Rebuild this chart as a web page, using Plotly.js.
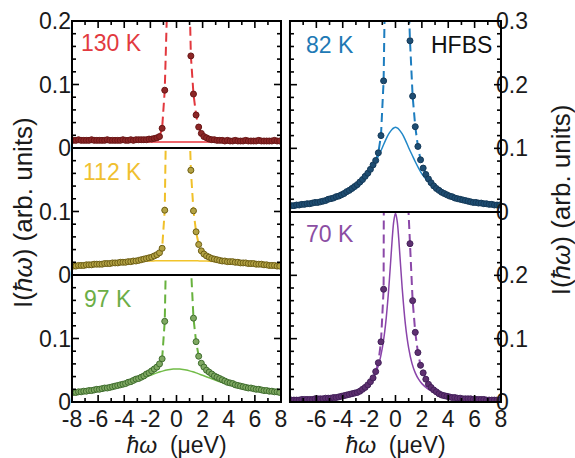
<!DOCTYPE html>
<html>
<head>
<meta charset="utf-8">
<script src="https://cdn.plot.ly/plotly-3.0.1.min.js"></script>
<style>html,body{margin:0;padding:0;background:#fff;}#chart{width:575px;height:458px;}</style>
</head>
<body>
<div id="chart"></div>
<script>
// energy transfer grid of the measured points (µeV)
const xGrid = [-7.9,-7.7,-7.5,-7.3,-7.1,-6.9,-6.7,-6.5,-6.3,-6.1,
-5.9,-5.7,-5.5,-5.3,-5.1,-4.9,-4.7,-4.5,-4.3,-4.1,
-3.9,-3.7,-3.5,-3.3,-3.1,-2.9,-2.7,-2.5,-2.3,-2.1,
-1.9,-1.7,-1.5,-1.3,-1.1,-0.9,-0.7,-0.5,-0.3,-0.1,
0.1,0.3,0.5,0.7,0.9,1.1,1.3,1.5,1.7,1.9,
2.1,2.3,2.5,2.7,2.9,3.1,3.3,3.5,3.7,3.9,
4.1,4.3,4.5,4.7,4.9,5.1,5.3,5.5,5.7,5.9,
6.1,6.3,6.5,6.7,6.9,7.1,7.3,7.5,7.7,7.9];

// measured intensities (values above the axis range are off-scale)
const p130 = [0.012,0.012,0.013,0.012,0.012,0.012,0.012,0.013,0.012,0.012,
0.012,0.012,0.012,0.013,0.012,0.012,0.012,0.012,0.012,0.013,
0.012,0.012,0.013,0.012,0.013,0.013,0.013,0.013,0.013,0.014,
0.014,0.015,0.016,0.018,0.031,0.091,0.236,0.8,1.4,1.8,
1.8,1.4,1.0,0.6,0.33,0.145,0.085,0.052,0.033,0.023,
0.018,0.016,0.014,0.013,0.013,0.012,0.012,0.012,0.011,0.012,
0.011,0.011,0.012,0.011,0.011,0.011,0.012,0.011,0.011,0.011,
0.011,0.012,0.011,0.011,0.011,0.011,0.011,0.012,0.011,0.011];

const p112 = [0.014,0.014,0.015,0.015,0.015,0.016,0.016,0.016,0.017,0.017,
0.017,0.017,0.018,0.018,0.018,0.019,0.019,0.019,0.020,0.020,
0.020,0.021,0.021,0.022,0.022,0.023,0.024,0.025,0.026,0.027,
0.028,0.030,0.032,0.035,0.042,0.102,0.38,0.9,1.3,1.5,
1.5,1.3,0.9,0.55,0.30,0.165,0.101,0.068,0.048,0.038,
0.033,0.030,0.028,0.026,0.025,0.024,0.023,0.022,0.022,0.021,
0.021,0.021,0.020,0.020,0.019,0.019,0.019,0.018,0.018,0.018,
0.017,0.017,0.017,0.016,0.016,0.015,0.015,0.015,0.014,0.014];

const p97 = [0.015,0.015,0.016,0.016,0.017,0.017,0.018,0.018,0.019,0.020,
0.020,0.021,0.022,0.022,0.023,0.024,0.025,0.026,0.027,0.028,
0.029,0.031,0.032,0.034,0.036,0.037,0.039,0.041,0.044,0.046,
0.049,0.052,0.055,0.060,0.068,0.127,0.27,0.6,1.0,1.2,
1.2,1.0,0.7,0.55,0.40,0.215,0.132,0.095,0.072,0.061,
0.055,0.050,0.047,0.044,0.041,0.039,0.037,0.035,0.033,0.031,
0.030,0.029,0.027,0.026,0.025,0.024,0.023,0.022,0.022,0.021,
0.020,0.020,0.019,0.018,0.018,0.017,0.017,0.016,0.016,0.015];

const p82 = [0.010,0.010,0.011,0.011,0.012,0.012,0.013,0.013,0.014,0.015,
0.015,0.016,0.017,0.018,0.020,0.021,0.022,0.024,0.025,0.027,
0.029,0.032,0.034,0.037,0.040,0.043,0.047,0.051,0.056,0.061,
0.067,0.074,0.081,0.093,0.120,0.206,0.9,1.3,1.5,1.6,
1.6,1.5,1.2,0.7,0.39,0.269,0.182,0.134,0.103,0.082,
0.069,0.059,0.052,0.046,0.041,0.037,0.034,0.031,0.029,0.027,
0.025,0.024,0.022,0.021,0.020,0.019,0.018,0.017,0.016,0.015,
0.015,0.014,0.014,0.013,0.013,0.012,0.012,0.011,0.011,0.011];

const p70 = [0.003,0.003,0.003,0.003,0.004,0.004,0.004,0.004,0.004,0.005,
0.005,0.005,0.005,0.006,0.006,0.006,0.007,0.007,0.008,0.009,
0.010,0.011,0.012,0.013,0.014,0.015,0.017,0.020,0.023,0.027,
0.032,0.038,0.048,0.062,0.095,0.178,2.0,2.4,2.7,2.8,
2.8,2.5,2.0,1.2,0.34,0.25,0.16,0.11,0.078,0.058,
0.046,0.036,0.028,0.023,0.019,0.016,0.013,0.011,0.010,0.009,
0.008,0.007,0.007,0.006,0.006,0.005,0.005,0.005,0.005,0.004,
0.004,0.004,0.004,0.004,0.003,0.003,0.003,0.003,0.003,0.003];

// broad (quasi-elastic) component, solid lines
const fineX = [-8,-7,-6,-5,-4,-3.5,-3,-2.5,-2,-1.75,-1.5,-1.25,-1,-0.75,-0.5,-0.25,-0.125,0,
0.125,0.25,0.5,0.75,1,1.25,1.5,1.75,2,2.5,3,3.5,4,5,6,7,8];
const s130 = [0.0095,0.0095,0.0095,0.0095,0.0095,0.0095,0.0095,0.0095,0.0095,0.0095,0.0095,0.0095,0.0095,0.0095,0.0095,0.0095,0.0095,0.0095,
0.0095,0.0095,0.0095,0.0095,0.0095,0.0095,0.0095,0.0095,0.0095,0.0095,0.0095,0.0095,0.0095,0.0095,0.0095,0.0095,0.0095];
const s112 = [0.0155,0.0168,0.0181,0.0194,0.0205,0.0210,0.0214,0.0218,0.0221,0.0222,0.0223,0.0224,0.0225,0.0225,0.0226,0.0226,0.0226,0.0226,
0.0226,0.0226,0.0226,0.0225,0.0225,0.0224,0.0223,0.0222,0.0221,0.0218,0.0214,0.0210,0.0205,0.0194,0.0181,0.0168,0.0155];
const s97 = [0.0138,0.0159,0.0187,0.0225,0.0276,0.0307,0.0342,0.0381,0.0420,0.0439,0.0458,0.0475,0.0490,0.0503,0.0512,0.0518,0.0519,0.0520,
0.0519,0.0518,0.0512,0.0503,0.0490,0.0475,0.0458,0.0439,0.0420,0.0381,0.0342,0.0307,0.0276,0.0225,0.0187,0.0159,0.0138];
const s82 = [0.011,0.0125,0.015,0.019,0.026,0.031,0.037,0.047,0.060,0.069,0.079,0.090,0.101,0.113,0.123,0.130,0.132,0.133,
0.132,0.130,0.123,0.113,0.101,0.090,0.079,0.069,0.060,0.047,0.037,0.031,0.026,0.019,0.015,0.0125,0.011];
const s70 = [0.0048,0.0053,0.0061,0.0075,0.010,0.012,0.015,0.020,0.029,0.036,0.046,0.061,0.085,0.123,0.182,0.257,0.286,0.298,
0.286,0.257,0.182,0.123,0.085,0.061,0.046,0.036,0.029,0.020,0.015,0.012,0.010,0.0075,0.0061,0.0053,0.0048];

const panelLabels = ['130 K','112 K','97 K','82 K','70 K'];
const xRange = [-8, 8];
const xTickVals = [-8,-6,-4,-2,0,2,4,6,8];
const xTickTextL = ['-8','-6','-4','-2','0','2','4','6','8'];
const xTickTextR = ['','-6','-4','-2','0','2','4','6','8'];
const xMajorInner = [-6,-4,-2,0,2,4,6];
const xMinor = [-7,-5,-3,-1,1,3,5,7];
const yTickValsL = [0,0.1,0.2];
const yTickValsR = [0,0.1,0.2,0.3];
const yMajorInnerL = [0.1];
const yMinorL = [0.02,0.04,0.06,0.08,0.12,0.14,0.16,0.18];
const yMajorInnerR = [0.1,0.2];
const yMinorR = [0.02,0.04,0.06,0.08,0.12,0.14,0.16,0.18,0.22,0.24,0.26,0.28];

const FONT = 'Liberation Sans, Arial, Helvetica, sans-serif';
const FIG_W = 575, FIG_H = 458;
const traces = [];
function addPanel(k, pts, sol, lineCol, solCol, mFill, mEdge){
  const s = k===1 ? '' : String(k);
  traces.push({x:xGrid, y:pts, xaxis:'x'+s, yaxis:'y'+s, mode:'lines',
    line:{color:lineCol, width:2, dash:'9px,5px'}, hoverinfo:'skip'});
  traces.push({x:fineX, y:sol, xaxis:'x'+s, yaxis:'y'+s, mode:'lines',
    line:{color:solCol, width:1.5, shape:'spline'}, hoverinfo:'skip'});
  traces.push({x:xGrid, y:pts, xaxis:'x'+s, yaxis:'y'+s, mode:'markers',
    marker:{size:6, color:mFill, line:{color:mEdge, width:1}}, hoverinfo:'skip'});
}
addPanel(1, p130, s130, '#e2383e', '#e8343c', '#8c2626', '#6a1717');
addPanel(2, p112, s112, '#f0c02a', '#f2c42a', '#b3a244', '#6e5f15');
addPanel(3, p97,  s97,  '#68b23e', '#72bc48', '#7fa862', '#3f6d2e');
addPanel(4, p82,  s82,  '#1d7dbf', '#2288c8', '#1e4d72', '#143958');
addPanel(5, p70,  s70,  '#8b48a8', '#8a44aa', '#5e3070', '#43205a');

const XL = [0.1252, 0.4887], XR = [0.5043, 0.8713];
const dom = {1:[0.6769,0.9541], 2:[0.3996,0.6769], 3:[0.1223,0.3996], 4:[0.5371,0.9541], 5:[0.1223,0.5371]};

function xAxis(k, kind){
  const s = k===1 ? '' : String(k);
  const a = {domain: k<=3 ? XL : XR, anchor:'y'+s, range:xRange, showgrid:false, zeroline:false,
    showline:false, ticks:'', tickmode:'array', tickvals:xTickVals, ticktext: k<=3 ? xTickTextL : xTickTextR,
    tickfont:{size:23, color:'#1a1a1a', family:FONT}, showticklabels:false};
  if (kind==='bottom'){
    Object.assign(a, {side:'bottom', showticklabels:true, ticklabelstandoff:1,
      title:{text:'<i>ħω</i>&nbsp; (μeV)', font:{size:23, color:'#1a1a1a', family:FONT}, standoff:22}});
  }
  return a;
}
function yAxis(k, right, texts){
  const s = k===1 ? '' : String(k);
  return {domain:dom[k], anchor:'x'+s, range:[0, right?0.3:0.2], side: right?'right':'left',
    showgrid:false, zeroline:false, showline:false, ticks:'',
    tickmode:'array', tickvals: right ? yTickValsR : yTickValsL, ticktext:texts,
    ticklabelstandoff: right ? -6 : 0,
    tickfont:{size:23, color:'#1a1a1a', family:FONT}};
}

// frames and inward tick marks, placed in each panel's domain coordinates
const MAJ = 7, MIN = 4;
const shapes = [];
function domLine(s, x0, x1, y0, y1){
  shapes.push({type:'line', xref:'x'+s+' domain', yref:'y'+s+' domain', x0:x0, x1:x1, y0:y0, y1:y1,
    line:{color:'#000', width:1.6}, layer:'above'});
}
function panelDecor(k, xSide, right){
  const s = k===1 ? '' : String(k);
  const xd = k<=3 ? XL : XR, d = dom[k];
  const hpx = (d[1]-d[0])*FIG_H, wpx = (xd[1]-xd[0])*FIG_W;
  const yMax = right ? 0.3 : 0.2;
  const fx = v => (v - xRange[0]) / (xRange[1] - xRange[0]);
  const fy = v => v / yMax;
  shapes.push({type:'rect', xref:'x'+s+' domain', yref:'y'+s+' domain', x0:0, x1:1, y0:0, y1:1,
    line:{color:'#000', width:2}, fillcolor:'rgba(0,0,0,0)', layer:'above'});
  if (xSide){
    const base = xSide==='bottom' ? 0 : 1, sg = xSide==='bottom' ? 1 : -1;
    xMajorInner.forEach(v => domLine(s, fx(v), fx(v), base, base + sg*MAJ/hpx));
    xMinor.forEach(v => domLine(s, fx(v), fx(v), base, base + sg*MIN/hpx));
  }
  const yMaj = right ? yMajorInnerR : yMajorInnerL, yMin = right ? yMinorR : yMinorL;
  yMaj.forEach(v => { domLine(s, 0, MAJ/wpx, fy(v), fy(v)); domLine(s, 1, 1-MAJ/wpx, fy(v), fy(v)); });
  yMin.forEach(v => { domLine(s, 0, MIN/wpx, fy(v), fy(v)); domLine(s, 1, 1-MIN/wpx, fy(v), fy(v)); });
}
panelDecor(1,'top',false);
panelDecor(2,null,false);
panelDecor(3,'bottom',false);
panelDecor(4,'top',true);
panelDecor(5,'bottom',true);

function lab(text, x, y, color, anchor){
  return {text:text, xref:'paper', yref:'paper', x:x, y:y, xanchor:anchor||'left', yanchor:'middle',
    showarrow:false, font:{size:23, color:color, family:FONT}};
}
const layout = {
  width:FIG_W, height:FIG_H, margin:{l:0,r:0,t:0,b:0}, showlegend:false,
  paper_bgcolor:'#fff', plot_bgcolor:'rgba(0,0,0,0)', font:{family:FONT, size:23, color:'#1a1a1a'},
  xaxis: xAxis(1,'top'), xaxis2: xAxis(2,'mid'), xaxis3: xAxis(3,'bottom'),
  xaxis4: xAxis(4,'top'), xaxis5: xAxis(5,'bottom'),
  yaxis: yAxis(1,false,['0','0.1','0.2']),
  yaxis2: yAxis(2,false,['0','0.1','']),
  yaxis3: yAxis(3,false,['0','0.1','']),
  yaxis4: yAxis(4,true,['0','0.1','0.2','0.3']),
  yaxis5: yAxis(5,true,['0','0.1','0.2','']),
  shapes: shapes,
  annotations:[
    lab(panelLabels[0], 0.137, 0.906, '#e23a40'),
    lab(panelLabels[1], 0.140, 0.6245, '#f0c030'),
    lab(panelLabels[2], 0.142, 0.347, '#6cae46'),
    lab(panelLabels[3], 0.528, 0.9017, '#2079b5'),
    lab('HFBS', 0.859, 0.9017, '#111', 'right'),
    lab(panelLabels[4], 0.528, 0.489, '#8b4ea3'),
    {text:'I(<i>ħω</i>) (arb. units)', xref:'paper', yref:'paper', x:0.040, y:0.535, textangle:-90,
      xanchor:'center', yanchor:'middle', showarrow:false, font:{size:26, color:'#1a1a1a', family:FONT}},
    {text:'I(<i>ħω</i>) (arb. units)', xref:'paper', yref:'paper', x:0.976, y:0.563, textangle:-90,
      xanchor:'center', yanchor:'middle', showarrow:false, font:{size:26, color:'#1a1a1a', family:FONT}}
  ]
};
Plotly.newPlot('chart', traces, layout, {displayModeBar:false});
</script>
</body>
</html>
